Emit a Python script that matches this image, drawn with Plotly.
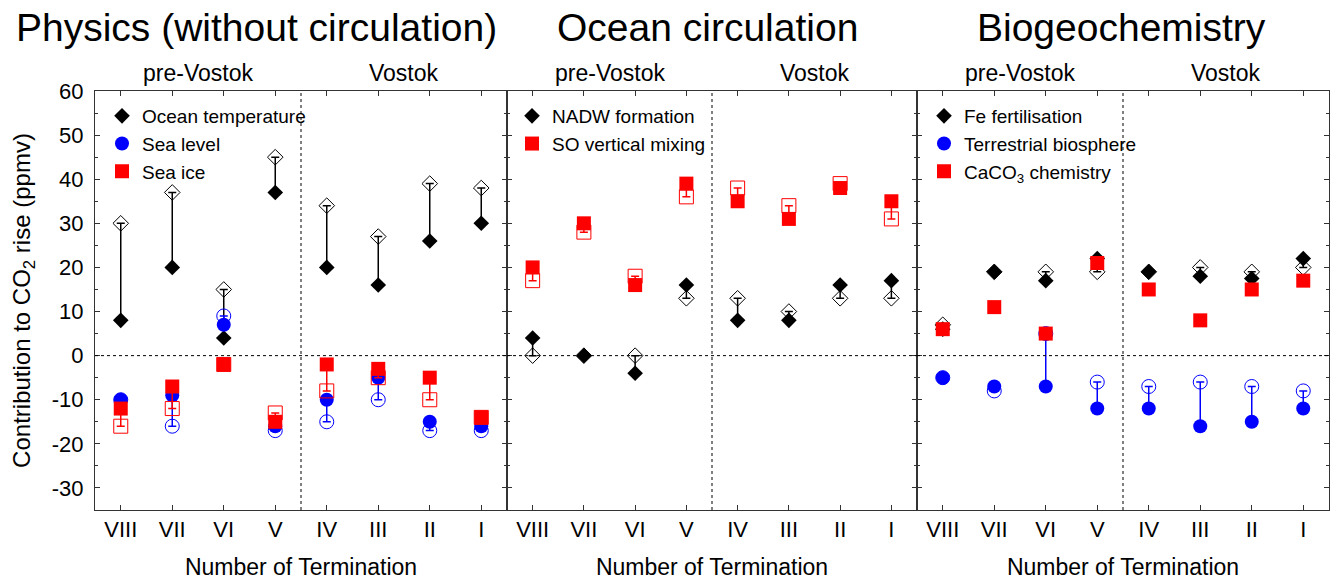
import plotly.graph_objects as go
from plotly.subplots import make_subplots

W, H = 1333, 580
FONT = "Liberation Sans, Arial, sans-serif"

termination = ["VIII", "VII", "VI", "V", "IV", "III", "II", "I"]
ytick_vals = [-30, -20, -10, 0, 10, 20, 30, 40, 50, 60]
ytick_text = [str(v) for v in ytick_vals]

panel_titles = ["Physics (without circulation)", "Ocean circulation", "Biogeochemistry"]

# Physics (without circulation): filled = value, open = alternative value
ocean_temp = [8, 20, 4, 37, 20, 16, 26, 30]
ocean_temp_open = [30, 37, 15, 45, 34, 27, 39, 38]
sea_level = [-10, -9, 7, -16, -10, -5, -15, -16]
sea_level_open = [-10, -16, 9, -17, -15, -10, -17, -17]
sea_ice = [-12, -7, -2, -15, -2, -3, -5, -14]
sea_ice_open = [-16, -12, -2, -13, -8, -5, -10, -14]

# Ocean circulation
nadw = [4, 0, -4, 16, 8, 8, 16, 17]
nadw_open = [0, 0, 0, 13, 13, 10, 13, 13]
so_mixing = [20, 30, 16, 39, 35, 31, 38, 35]
so_mixing_open = [17, 28, 18, 36, 38, 34, 39, 31]

# Biogeochemistry
fe_fert = [6, 19, 17, 22, 19, 18, 17.5, 22]
fe_fert_open = [7, 19, 19, 19, 19, 20, 19, 20]
terr_bio = [-5, -7, -7, -12, -12, -16, -15, -12]
terr_bio_open = [-5, -8, 5, -6, -7, -6, -7, -8]
caco3 = [6, 11, 5, 21, 15, 8, 15, 17]

BLACK, BLUE, RED = "#000000", "#0000ff", "#ff0000"
SIZES = {"diamond": 12, "circle": 14, "square": 14}

fig = make_subplots(rows=1, cols=3, shared_yaxes=True, horizontal_spacing=0)


def add_series(col, name, symbol, color, vals, vals_open, legend):
    size = SIZES[symbol]
    err = None
    if vals_open is not None:
        fig.add_trace(go.Scatter(
            x=termination, y=vals_open, mode="markers", showlegend=False,
            hoverinfo="skip",
            marker=dict(symbol=symbol + "-open", size=size, color=color,
                        line=dict(color=color, width=1))), row=1, col=col)
        up = [max(o - v, 0) for v, o in zip(vals, vals_open)]
        down = [max(v - o, 0) for v, o in zip(vals, vals_open)]
        err = dict(type="data", symmetric=False, array=up, arrayminus=down,
                   color=color, thickness=1.5, width=4)
    fig.add_trace(go.Scatter(
        x=termination, y=vals, mode="markers", name=name, legend=legend,
        marker=dict(symbol=symbol, size=size, color=color, line=dict(width=0)),
        error_y=err), row=1, col=col)


add_series(1, "Ocean temperature", "diamond", BLACK, ocean_temp, ocean_temp_open, "legend")
add_series(1, "Sea level", "circle", BLUE, sea_level, sea_level_open, "legend")
add_series(1, "Sea ice", "square", RED, sea_ice, sea_ice_open, "legend")

add_series(2, "NADW formation", "diamond", BLACK, nadw, nadw_open, "legend2")
add_series(2, "SO vertical mixing", "square", RED, so_mixing, so_mixing_open, "legend2")

add_series(3, "Fe fertilisation", "diamond", BLACK, fe_fert, fe_fert_open, "legend3")
add_series(3, "Terrestrial biosphere", "circle", BLUE, terr_bio, terr_bio_open, "legend3")
add_series(3, "CaCO<sub>3</sub> chemistry", "square", RED, caco3, None, "legend3")

# panel geometry (pixels of the 1333x580 page)
px_left = [95, 507, 917]
px_right = [507, 917, 1329]
y_dom = [1 - 510 / H, 1 - 91 / H]

for i in range(3):
    ax = "xaxis" if i == 0 else "xaxis%d" % (i + 1)
    ay = "yaxis" if i == 0 else "yaxis%d" % (i + 1)
    fig.layout[ax].update(
        domain=[px_left[i] / W, px_right[i] / W], automargin=False,
        type="category", categoryorder="array", categoryarray=termination,
        range=[-0.5, 7.5], showline=True, linecolor="#333", linewidth=1,
        mirror="ticks", ticks="inside", ticklen=5, tickcolor="#333",
        showgrid=False, zeroline=False,
        tickfont=dict(size=22, color="black"), ticklabelstandoff=0,
        title=dict(text="Number of Termination", font=dict(size=23, color="black"),
                   standoff=17))
    fig.layout[ay].update(
        domain=y_dom, range=[-35, 60], tickvals=ytick_vals, ticktext=ytick_text,
        automargin=False,
        showline=True, linecolor="#333", linewidth=1, mirror="ticks",
        ticks="inside", ticklen=5, tickcolor="#333",
        minor=dict(dtick=5, ticks="inside", ticklen=3, tickcolor="#333"),
        showgrid=False, zeroline=False, showticklabels=(i == 0),
        tickfont=dict(size=22, color="black"), ticklabelstandoff=6)

    xr = "x" if i == 0 else "x%d" % (i + 1)
    yr = "y" if i == 0 else "y%d" % (i + 1)
    # dotted zero line and pre-Vostok / Vostok separator
    fig.add_shape(type="line", xref=xr + " domain", yref=yr, x0=0, x1=1, y0=0, y1=0,
                  line=dict(color="black", width=1, dash="dot"))
    fig.add_shape(type="line", xref=xr, yref=yr + " domain", x0=3.5, x1=3.5, y0=0, y1=1,
                  line=dict(color="black", width=1, dash="dot"))
    fig.add_annotation(text="pre-Vostok", xref=xr, yref="paper", x=1.5, y=1 - 73 / H,
                       xanchor="center", yanchor="middle",
                       showarrow=False, font=dict(size=23, color="black"))
    fig.add_annotation(text="Vostok", xref=xr, yref="paper", x=5.5, y=1 - 73 / H,
                       xanchor="center", yanchor="middle",
                       showarrow=False, font=dict(size=23, color="black"))

title_x = [256, 707, 1121]
for t, tx in zip(panel_titles, title_x):
    fig.add_annotation(text=t, xref="paper", yref="paper", x=tx / W, y=1 - 27 / H,
                       xanchor="center", yanchor="middle",
                       showarrow=False, font=dict(size=39, color="black"))

fig.layout.yaxis.title = dict(text="Contribution to CO<sub>2</sub> rise (ppmv)",
                              font=dict(size=24, color="black"), standoff=14)

leg_common = dict(font=dict(size=19, color="black"), bgcolor="rgba(0,0,0,0)",
                  xanchor="left", yanchor="top", y=1 - 97 / H, itemclick=False)
fig.update_layout(
    legend=dict(x=102 / W, **leg_common),
    legend2=dict(x=512 / W, **leg_common),
    legend3=dict(x=924 / W, **leg_common),
)

fig.update_layout(
    width=W, height=H, margin=dict(l=0, r=0, t=0, b=0, autoexpand=False),
    paper_bgcolor="white", plot_bgcolor="white",
    font=dict(family=FONT, color="black"),
)

# page body margin off so the 1333x580 figure fills the window exactly
fig.write_html("out.html", config={"displayModeBar": False},
               post_script="document.body.style.margin = '0';")
